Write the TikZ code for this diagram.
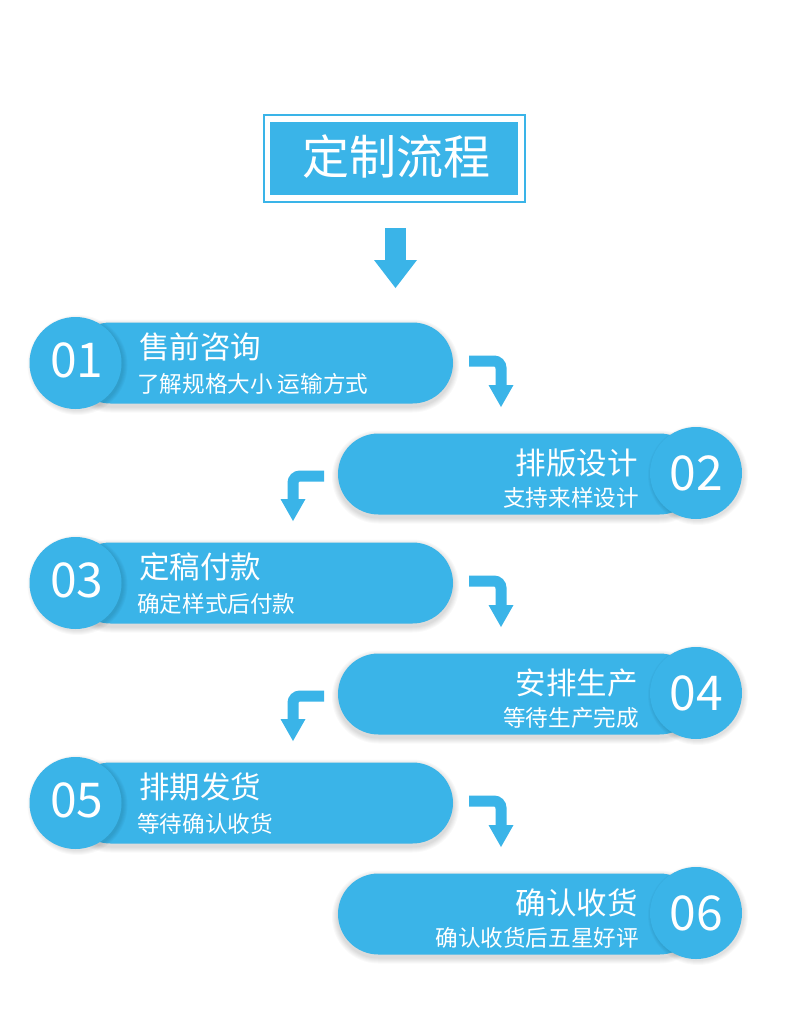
\documentclass[tikz,border=0pt]{standalone}
\usepackage{fontspec}
\setmainfont{Noto Sans CJK SC}
\definecolor{blu}{RGB}{58,180,232}
\tikzset{
  bar/.style={draw=blu, line width=11pt, rounded corners=7pt},
  headtip/.style={fill=blu},
  ttl/.style={text=white, inner sep=0pt, font=\fontsize{30.5}{30.5}\selectfont},
  subttl/.style={text=white, inner sep=0pt, font=\fontsize{22.6}{22.6}\selectfont},
  num/.style={text=white, inner sep=0pt, font=\fontsize{48}{48}\selectfont},
  pillfill/.style={fill=blu, rounded corners=40.5pt},
}
\newcommand\pillshadow[3]{%
  \foreach \i in {1,...,6}{%
    \fill[black, opacity=0.022, rounded corners=40.5pt+\i pt] (#1-\i,#3-40.5-\i+3) rectangle (#2+\i,#3+40.5+\i+3);
  }}
\newcommand\circshadow[2]{%
  \foreach \i in {1,...,5}{%
    \fill[black, opacity=0.022] (#1+2,#2+2) circle[radius=45pt+\i pt];
  }}
\newcommand\leftrow[5]{%
  \pillshadow{70}{453}{#1}
  \fill[pillfill] (70,#1-40.5) rectangle (453,#1+40.5);
  \circshadow{75.5}{#1}
  \fill[blu] (75.5,#1) circle[radius=46pt];
  \node[num] (#5n) at (77,#1-2.5) {#2};
  \node[ttl, anchor=west] (#5t) at (139,#1-16) {#3};
  \node[subttl, anchor=west] (#5s) at (137,#1+20.5) {#4};
}
\newcommand\rightrow[5]{%
  \pillshadow{338}{700}{#1+1}
  \fill[pillfill] (338,#1+1-40.5) rectangle (700,#1+1+40.5);
  \circshadow{696}{#1}
  \fill[blu] (696,#1) circle[radius=46pt];
  \node[num] (#5n) at (696,#1) {#2};
  \node[ttl, anchor=east] (#5t) at (638,#1-10) {#3};
  \node[subttl, anchor=east] (#5s) at (639,#1+24.5) {#4};
}
\newcommand\rarrow[1]{%
  \draw[bar] (469,#1-2) -- (501,#1-2) -- (501,#1+23);
  \fill[headtip] (488.5,#1+22) -- (513.5,#1+22) -- (501,#1+44) -- cycle;
}
\newcommand\larrow[1]{%
  \draw[bar] (324,#1+3) -- (293,#1+3) -- (293,#1+27);
  \fill[headtip] (280.5,#1+26) -- (305.5,#1+26) -- (293,#1+48) -- cycle;
}
\begin{document}
\begin{tikzpicture}[x=1pt,y=-1pt]
  \useasboundingbox[fill=white] (0,0) rectangle (790,1013);
  % title
  \draw[blu, line width=2pt] (264,115) rectangle (525,202);
  \fill[blu] (270,122) rectangle (518,195);
  \node[text=white, inner sep=0pt, font=\fontsize{47}{47}\selectfont] (title) at (396,157) {定制流程};
  % top arrow
  \fill[blu] (385,228) rectangle (406,261);
  \fill[blu] (374,260) -- (417,260) -- (395.5,288) -- cycle;
  % rows
  \leftrow{363}{01}{售前咨询}{了解规格大小 运输方式}{r1}
  \rightrow{473}{02}{排版设计}{支持来样设计}{r2}
  \leftrow{583}{03}{定稿付款}{确定样式后付款}{r3}
  \rightrow{693}{04}{安排生产}{等待生产完成}{r4}
  \leftrow{803}{05}{排期发货}{等待确认收货}{r5}
  \rightrow{913}{06}{确认收货}{确认收货后五星好评}{r6}
  % bent arrows
  \rarrow{363}
  \larrow{473}
  \rarrow{583}
  \larrow{693}
  \rarrow{803}
\end{tikzpicture}
\end{document}
